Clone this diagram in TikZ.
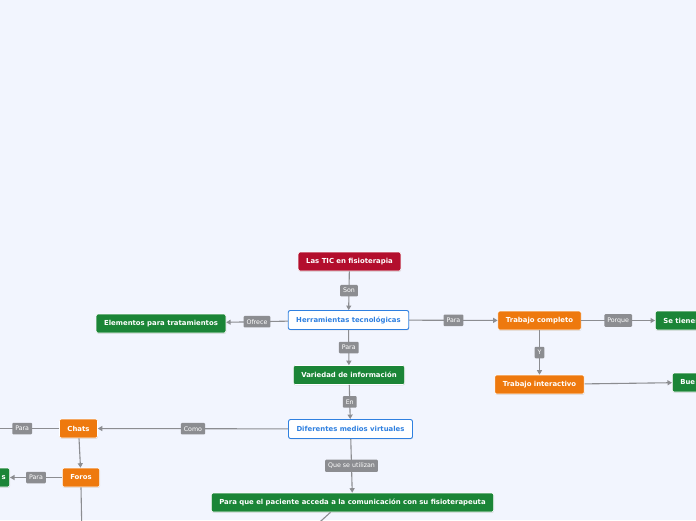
\documentclass[tikz,border=0pt]{standalone}
\usepackage{fontspec}
\setmainfont{DejaVu Sans}
\usetikzlibrary{
  arrows.meta, % For arrow tips
  shadows % For the soft box shadows
}

\definecolor{bgcol}{HTML}{F2F5FE}
\definecolor{ticred}{HTML}{B30E2D}
\definecolor{ticgreen}{HTML}{1B8537}
\definecolor{ticorange}{HTML}{EE790E}
\definecolor{ticblue}{HTML}{2F80E0}
\definecolor{linkgray}{HTML}{8C8D91}

\begin{document}
\begin{tikzpicture}[
      x=1pt, y=-1pt, % Pixel grid, y pointing down
      >={Triangle[length=4.5pt, width=5pt]}, % Default arrow tip
      box/.style={rounded corners=2pt, draw=white, line width=0.6pt,
        minimum height=19pt, inner xsep=8pt, text=white,
        font=\fontsize{6.9}{8}\selectfont\bfseries,
        drop shadow={opacity=0.25, shadow xshift=0.4pt, shadow yshift=-0.8pt}},
      redbox/.style={box, fill=ticred},
      greenbox/.style={box, fill=ticgreen},
      orangebox/.style={box, fill=ticorange},
      bluebox/.style={box, fill=white, draw=ticblue, text=ticblue, line width=0.9pt},
      link/.style={draw=linkgray, line width=1.1pt, ->},
      lbl/.style={fill=linkgray, text=white, rounded corners=1pt, inner xsep=3pt,
        minimum height=11.5pt, font=\fontsize{6.3}{7}\selectfont},
    ]

    % Hintergrund
    \fill[bgcol] (0,0) rectangle (696,520);
    \useasboundingbox (0,0) rectangle (696,520);
    \clip (0,0) rectangle (696,520);

    % Knoten
    \node[redbox] (tic) at (349.5,261.5) {Las TIC en fisioterapia};
    \node[bluebox] (herr) at (348.5,320) {Herramientas tecnológicas};
    \node[greenbox] (elem) at (161,323.5) {Elementos para tratamientos};
    \node[orangebox] (compl) at (539.5,320.5) {Trabajo completo};
    \node[greenbox, anchor=west] (tienen) at (655,320.5) {Se tienen};
    \node[orangebox] (inter) at (539.5,384.5) {Trabajo interactivo};
    \node[greenbox, anchor=west] (bue) at (672,382.5) {Bue};
    \node[greenbox] (var) at (349,375) {Variedad de información};
    \node[bluebox] (medios) at (350.5,429) {Diferentes medios virtuales};
    \node[orangebox] (chats) at (78.5,428.5) {Chats};
    \node[orangebox] (foros) at (81,477.5) {Foros};
    \node[greenbox, anchor=east, text width=30pt, align=right, inner xsep=4pt] (dudas) at (10,477.5) {s};
    \node[greenbox] (acceda) at (352.5,502.5) {Para que el paciente acceda a la comunicación con su fisioterapeuta};
    \coordinate (chatsout) at (-12,428.5);
    \coordinate (forosout) at (82,540);
    \coordinate (accedaout) at (300,540);

    % Verbindungen
    \draw[link] (tic) -- node[lbl] {Son} (herr);
    \draw[link] (herr) -- node[lbl] {Ofrece} (elem);
    \draw[link] (herr) -- node[lbl] {Para} (compl);
    \draw[link] (compl) -- node[lbl] {Porque} (tienen);
    \draw[link] (compl) -- node[lbl] {Y} (inter);
    \draw[link] (inter) -- (bue);
    \draw[link] (herr) -- node[lbl] {Para} (var);
    \draw[link] (var) -- node[lbl] {En} (medios);
    \draw[link] (medios) -- node[lbl] {Como} (chats);
    \draw[link] (chats) -- node[lbl, pos=0.52] {Para} (chatsout);
    \draw[link] (chats) -- (foros);
    \draw[link] (foros) -- node[lbl] {Para} (dudas);
    \draw[link] (foros.south) -- (forosout);
    \draw[link] (medios) -- node[lbl] {Que se utilizan} (acceda);
    \draw[link] ([xshift=-22pt]acceda.south) -- (accedaout);

  \end{tikzpicture}
\end{document}
